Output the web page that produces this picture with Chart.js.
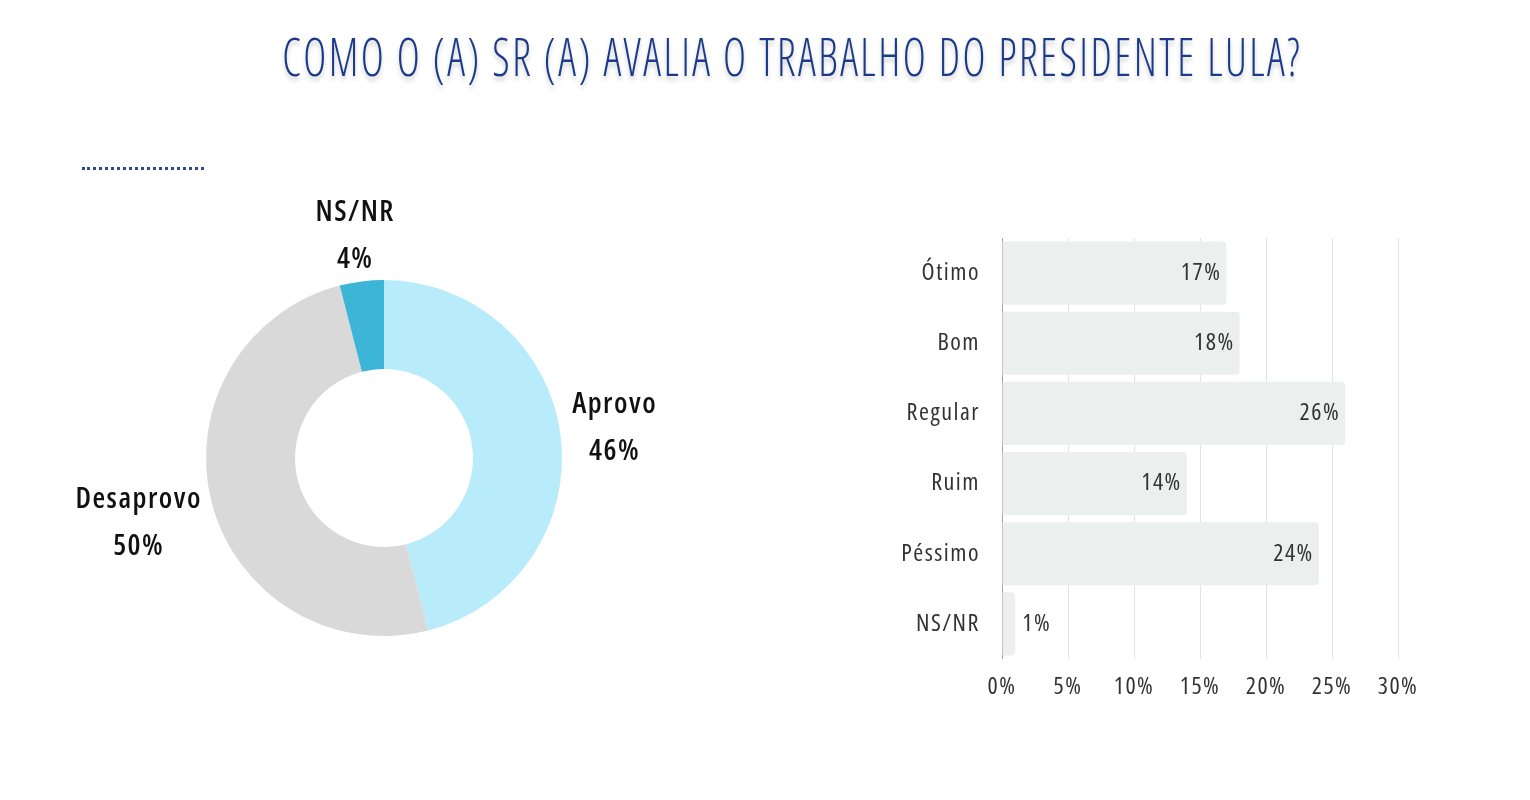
<!DOCTYPE html>
<html lang="pt">
<head>
    <meta charset="UTF-8">
    <title>Avaliação do trabalho do presidente Lula</title>
    <script src="https://cdn.jsdelivr.net/npm/chart.js@4.4.0/dist/chart.umd.min.js"></script>
    <style>
        body {
            margin: 0;
            width: 1530px;
            height: 800px;
            background: #ffffff;
            position: relative;
            overflow: hidden;
            font-family: "Open Sans", sans-serif;
        }
        h1 {
            position: absolute;
            top: 18px;
            left: 22px;
            width: 1530px;
            margin: 0;
            text-align: center;
            white-space: nowrap;
            font-weight: 300;
            font-stretch: 75%;
            font-size: 54px;
            letter-spacing: 3px;
            color: #1c3a8a;
            text-shadow: 0 4px 5px rgba(0, 0, 0, 0.2);
            transform: scaleX(0.81);
            transform-origin: 792px 0;
        }
        .dots {
            position: absolute;
            left: 82px;
            top: 167px;
            width: 122px;
            border-top: 3px dotted #2b4b8e;
        }
        #donutBox {
            position: absolute;
            left: 0;
            top: 180px;
            width: 768px;
            height: 556px;
        }
        #barBox {
            position: absolute;
            left: 860px;
            top: 220px;
            width: 568px;
            height: 489px;
        }
    </style>
</head>
<body>
    <h1>COMO O (A) SR (A) AVALIA O TRABALHO DO PRESIDENTE LULA?</h1>
    <div class="dots"></div>

    <div id="donutBox"><canvas id="donutChart"></canvas></div>
    <div id="barBox"><canvas id="barChart"></canvas></div>

    <script>
        // Aprova / desaprova
        const donutLabels = ['Aprovo', 'Desaprovo', 'NS/NR'];
        const donutValues = [46, 50, 4];
        const donutColors = ['#b9ecfb', '#d9d9d9', '#3db5d6'];

        // Avaliação
        const barLabels = ['Ótimo', 'Bom', 'Regular', 'Ruim', 'Péssimo', 'NS/NR'];
        const barValues = [17, 18, 26, 14, 24, 1];
        const axisTicks = [0, 5, 10, 15, 20, 25, 30];

        const FONT = '"Open Sans", sans-serif';

        // labels outside the doughnut, two lines (name + percent)
        const donutLabelPlugin = {
            id: 'donutLabels',
            afterDatasetsDraw(chart) {
                const ctx = chart.ctx;
                const meta = chart.getDatasetMeta(0);
                ctx.save();
                ctx.font = '600 condensed 29px ' + FONT;
                ctx.letterSpacing = '1.5px';
                ctx.fillStyle = '#111111';
                ctx.textAlign = 'center';
                ctx.textBaseline = 'middle';
                meta.data.forEach((arc, i) => {
                    const p = arc.getProps(['x', 'y', 'startAngle', 'endAngle', 'outerRadius'], true);
                    const mid = (p.startAngle + p.endAngle) / 2;
                    const dx = Math.cos(mid), dy = Math.sin(mid);
                    const lines = [donutLabels[i], donutValues[i] + '%'];
                    const w = Math.max(...lines.map(t => ctx.measureText(t).width));
                    const h = 64;
                    const ax = p.x + dx * (p.outerRadius + 12);
                    const ay = p.y + dy * (p.outerRadius + 12);
                    const cx = ax + dx * w / 2;
                    // lower labels sit a bit further down in the original
                    const cy = ay + dy * h / 2 + (dy > 0 ? 10 : -2);
                    ctx.fillText(lines[0], cx, cy - 23);
                    ctx.fillText(lines[1], cx, cy + 24);
                });
                ctx.restore();
            }
        };

        new Chart(document.getElementById('donutChart'), {
            type: 'doughnut',
            data: {
                labels: donutLabels,
                datasets: [{
                    data: donutValues,
                    backgroundColor: donutColors,
                    borderWidth: 0
                }]
            },
            options: {
                responsive: true,
                maintainAspectRatio: false,
                animation: false,
                cutout: '50%',
                layout: { padding: { top: 100, bottom: 100 } },
                plugins: {
                    legend: { display: false },
                    tooltip: { enabled: false }
                }
            },
            plugins: [donutLabelPlugin]
        });

        // value labels at the end of each bar
        const barLabelPlugin = {
            id: 'barLabels',
            beforeDraw(chart) {
                chart.ctx.letterSpacing = '1.5px';
            },
            afterDatasetsDraw(chart) {
                const ctx = chart.ctx;
                const meta = chart.getDatasetMeta(0);
                ctx.save();
                ctx.font = '400 condensed 24px ' + FONT;
                ctx.letterSpacing = '1.5px';
                ctx.fillStyle = '#333333';
                ctx.textBaseline = 'middle';
                meta.data.forEach((bar, i) => {
                    const label = barValues[i] + '%';
                    if (barValues[i] < 3) {
                        ctx.textAlign = 'left';
                        ctx.fillText(label, bar.x + 7, bar.y);
                    } else {
                        ctx.textAlign = 'right';
                        ctx.fillText(label, bar.x - 5, bar.y);
                    }
                });
                ctx.restore();
            }
        };

        const tickFont = { family: FONT, size: 24, weight: '400 condensed' };

        new Chart(document.getElementById('barChart'), {
            type: 'bar',
            data: {
                labels: barLabels,
                datasets: [{
                    data: barValues,
                    backgroundColor: '#ebf0ef',
                    borderRadius: 4,
                    barPercentage: 0.9,
                    categoryPercentage: 1
                }]
            },
            options: {
                indexAxis: 'y',
                responsive: true,
                maintainAspectRatio: false,
                animation: false,
                layout: { padding: { top: 18, right: 30, left: 0, bottom: 0 } },
                scales: {
                    x: {
                        min: 0,
                        max: 30,
                        afterBuildTicks(scale) {
                            scale.ticks = axisTicks.map(v => ({ value: v }));
                        },
                        afterFit(scale) {
                            scale.height = 50;
                            scale.paddingLeft = 0;
                            scale.paddingRight = 0;
                        },
                        grid: {
                            drawTicks: false,
                            color: c => c.tick && c.tick.value === 0 ? '#a0a0a0' : '#e3e3e3',
                            lineWidth: 1
                        },
                        border: { display: false },
                        ticks: {
                            padding: 14,
                            color: '#333333',
                            font: tickFont,
                            callback: v => v + '%'
                        }
                    },
                    y: {
                        afterFit(scale) {
                            scale.width = 142;
                            scale.paddingTop = 0;
                            scale.paddingBottom = 0;
                        },
                        grid: { display: false, drawTicks: false },
                        border: { display: false },
                        ticks: {
                            padding: 22,
                            color: '#333333',
                            font: tickFont
                        }
                    }
                },
                plugins: {
                    legend: { display: false },
                    tooltip: { enabled: false }
                }
            },
            plugins: [barLabelPlugin]
        });
    </script>
</body>
</html>
